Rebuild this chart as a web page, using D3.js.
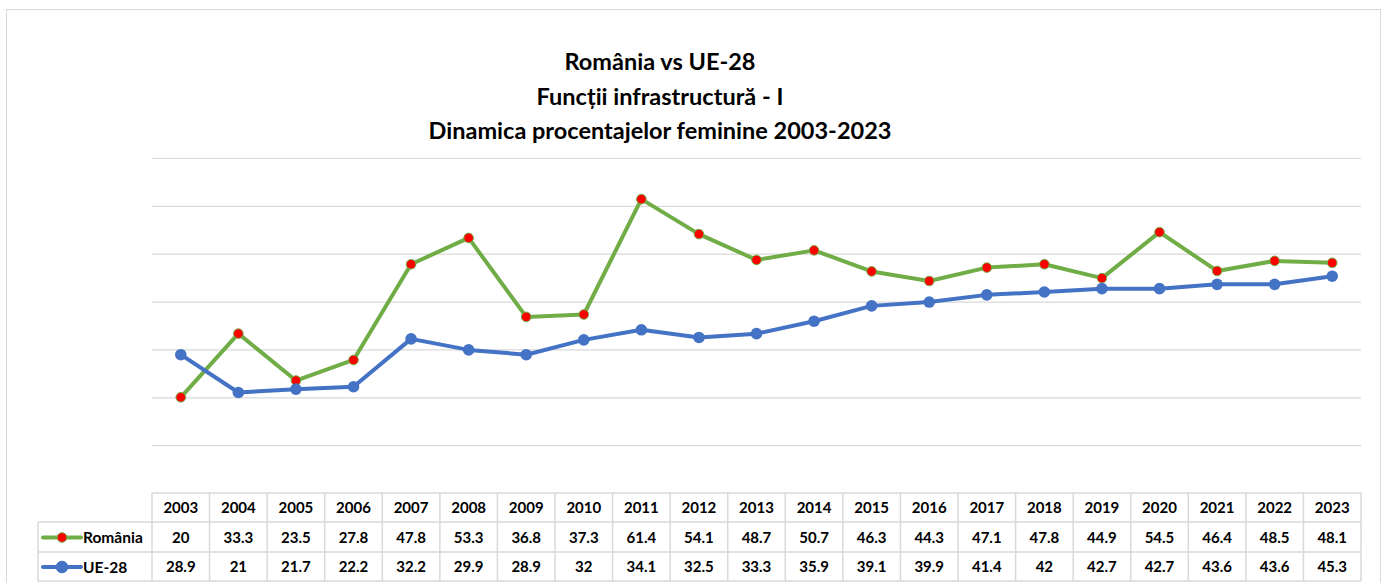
<!DOCTYPE html>
<html>
<head>
<meta charset="utf-8">
<script src="https://cdn.jsdelivr.net/npm/d3@7"></script>
<style>
  body { margin: 0; background: #fff; }
  svg { display: block; }
</style>
</head>
<body>
<div id="chart"></div>
<script>
var w = 1385;
var h = 583;

var years = ["2003", "2004", "2005", "2006", "2007", "2008", "2009", "2010", "2011", "2012", "2013",
  "2014", "2015", "2016", "2017", "2018", "2019", "2020", "2021", "2022", "2023"];
var romania = [20, 33.3, 23.5, 27.8, 47.8, 53.3, 36.8, 37.3, 61.4, 54.1, 48.7,
  50.7, 46.3, 44.3, 47.1, 47.8, 44.9, 54.5, 46.4, 48.5, 48.1];
var ue28 = [28.9, 21, 21.7, 22.2, 32.2, 29.9, 28.9, 32, 34.1, 32.5, 33.3,
  35.9, 39.1, 39.9, 41.4, 42, 42.7, 42.7, 43.6, 43.6, 45.3];
var gridTicks = [10, 20, 30, 40, 50, 60, 70];
var titleLines = ["România vs UE-28", "Funcții infrastructură - I", "Dinamica procentajelor feminine 2003-2023"];

var font = "Lato, 'Open Sans', sans-serif";
var gridColor = "#d9d9d9";

var svg = d3.select("#chart").append("svg").attr("width", w).attr("height", h);

// outer chart border
svg.append("rect")
  .attr("x", 6.5).attr("y", 9.5)
  .attr("width", 1374).attr("height", 580)
  .attr("fill", "none").attr("stroke", gridColor).attr("stroke-width", 1);

// title
svg.selectAll("text.title")
  .data(titleLines)
  .enter()
  .append("text")
  .attr("class", "title")
  .text(function (d) { return d; })
  .attr("x", 660)
  .attr("y", function (d, i) { return 70 + i * 34.5; })
  .attr("text-anchor", "middle")
  .attr("font-family", font)
  .attr("font-weight", "bold")
  .attr("font-size", "23.5px")
  .attr("fill", "#000");

var x = d3.scaleBand().domain(years).range([152, 1361]);
var y = d3.scaleLinear().domain([0, 70]).range([493, 158]);

// gridlines
svg.append("g")
  .attr("transform", "translate(152,0)")
  .call(d3.axisLeft(y).tickValues(gridTicks).tickSize(-(1361 - 152)).tickFormat(""))
  .call(function (g) {
    g.select(".domain").remove();
    g.selectAll(".tick line").attr("stroke", gridColor).attr("stroke-width", 1.2);
  });

function cx(d, i) { return x(years[i]) + x.bandwidth() / 2; }

var line = d3.line()
  .x(function (d, i) { return cx(d, i); })
  .y(function (d) { return y(d); });

// România
svg.append("path")
  .datum(romania)
  .attr("d", line)
  .attr("fill", "none")
  .attr("stroke", "#70ad47")
  .attr("stroke-width", 4)
  .attr("stroke-linejoin", "round");

svg.selectAll("circle.ro")
  .data(romania)
  .enter()
  .append("circle")
  .attr("class", "ro")
  .attr("cx", cx)
  .attr("cy", function (d) { return y(d); })
  .attr("r", 4.8)
  .attr("fill", "#ff0000")
  .attr("stroke", "#70ad47")
  .attr("stroke-width", 1);

// UE-28
svg.append("path")
  .datum(ue28)
  .attr("d", line)
  .attr("fill", "none")
  .attr("stroke", "#4472c4")
  .attr("stroke-width", 4)
  .attr("stroke-linejoin", "round");

svg.selectAll("circle.ue")
  .data(ue28)
  .enter()
  .append("circle")
  .attr("class", "ue")
  .attr("cx", cx)
  .attr("cy", function (d) { return y(d); })
  .attr("r", 5.8)
  .attr("fill", "#4472c4");

// data table
var rowTop = [493, 522, 552];
var rowBottom = 581;
var tbl = svg.append("g");

// horizontal lines
tbl.append("line").attr("x1", 152).attr("x2", 1361).attr("y1", rowTop[0]).attr("y2", rowTop[0]);
[rowTop[1], rowTop[2], rowBottom].forEach(function (yy) {
  tbl.append("line").attr("x1", 38).attr("x2", 1361).attr("y1", yy).attr("y2", yy);
});
// vertical lines
tbl.append("line").attr("x1", 38).attr("x2", 38).attr("y1", rowTop[1]).attr("y2", rowBottom);
years.forEach(function (yr) {
  tbl.append("line").attr("x1", x(yr)).attr("x2", x(yr)).attr("y1", rowTop[0]).attr("y2", rowBottom);
});
tbl.append("line").attr("x1", 1361).attr("x2", 1361).attr("y1", rowTop[0]).attr("y2", rowBottom);
tbl.selectAll("line").attr("stroke", gridColor).attr("stroke-width", 1.5);

function cellText(data, yMid) {
  tbl.selectAll(null)
    .data(data)
    .enter()
    .append("text")
    .text(function (d) { return d; })
    .attr("x", cx)
    .attr("y", yMid)
    .attr("dy", "0.36em")
    .attr("text-anchor", "middle")
    .attr("font-family", font)
    .attr("font-weight", "bold")
    .attr("font-size", "15px")
    .attr("fill", "#000");
}
cellText(years, 508);
cellText(romania, 537.5);
cellText(ue28, 567);

// legend keys inside the table
var keys = [
  { name: "România", color: "#70ad47", fill: "#ff0000", r: 4.8, y: 537.5 },
  { name: "UE-28", color: "#4472c4", fill: "#4472c4", r: 5.8, y: 567 }
];
keys.forEach(function (k) {
  tbl.append("line")
    .attr("x1", 43).attr("x2", 81)
    .attr("y1", k.y).attr("y2", k.y)
    .attr("stroke", k.color).attr("stroke-width", 4)
    .attr("stroke-linecap", "round");
  tbl.append("circle")
    .attr("cx", 62).attr("cy", k.y).attr("r", k.r)
    .attr("fill", k.fill).attr("stroke", k.color).attr("stroke-width", 1);
  tbl.append("text")
    .text(k.name)
    .attr("x", 83).attr("y", k.y).attr("dy", "0.36em")
    .attr("font-family", font).attr("font-weight", "bold")
    .attr("font-size", "15.5px").attr("fill", "#000");
});
</script>
</body>
</html>
